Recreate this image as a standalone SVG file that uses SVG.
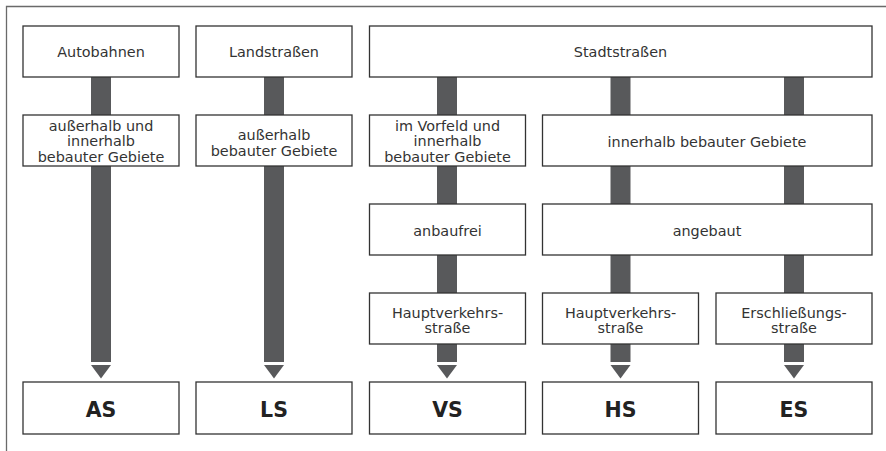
<svg xmlns="http://www.w3.org/2000/svg" width="886" height="451" viewBox="0 0 886 451">
<style>
.frame{stroke:#6a6a6a;stroke-width:1.3;fill:none}
.box{fill:#ffffff;stroke:#333333;stroke-width:1.3}
.bar{stroke:#58595b;stroke-width:20;stroke-linecap:butt;fill:none}
.t{font-family:"DejaVu Sans","Liberation Sans",sans-serif;font-size:14.4px;fill:#333333;text-anchor:middle}
.b{font-family:"DejaVu Sans","Liberation Sans",sans-serif;font-size:20.5px;font-weight:bold;fill:#222222;text-anchor:middle}
</style>
<defs>
<marker id="ah" markerUnits="userSpaceOnUse" markerWidth="40" markerHeight="40" refX="0" refY="0" orient="auto" overflow="visible">
<path d="M3,-10 L16.5,0 L3,10 Z" fill="#58595b"/>
</marker>
</defs>
<rect width="886" height="451" fill="#ffffff"/>
<path class="frame" d="M6.5,451 V6.5 H886"/>
<g id="connectors">
<line class="bar" x1="101" y1="77" x2="101" y2="115"/>
<line class="bar" x1="101" y1="166" x2="101" y2="362" marker-end="url(#ah)"/>
<line class="bar" x1="274" y1="77" x2="274" y2="115"/>
<line class="bar" x1="274" y1="166" x2="274" y2="362" marker-end="url(#ah)"/>
<line class="bar" x1="447" y1="77" x2="447" y2="115"/>
<line class="bar" x1="447" y1="166" x2="447" y2="204"/>
<line class="bar" x1="447" y1="255" x2="447" y2="293"/>
<line class="bar" x1="447" y1="344" x2="447" y2="362" marker-end="url(#ah)"/>
<line class="bar" x1="620.5" y1="77" x2="620.5" y2="115"/>
<line class="bar" x1="620.5" y1="166" x2="620.5" y2="204"/>
<line class="bar" x1="620.5" y1="255" x2="620.5" y2="293"/>
<line class="bar" x1="620.5" y1="344" x2="620.5" y2="362" marker-end="url(#ah)"/>
<line class="bar" x1="794" y1="77" x2="794" y2="115"/>
<line class="bar" x1="794" y1="166" x2="794" y2="204"/>
<line class="bar" x1="794" y1="255" x2="794" y2="293"/>
<line class="bar" x1="794" y1="344" x2="794" y2="362" marker-end="url(#ah)"/>
</g>
<g id="autobahnen"><rect class="box" x="23" y="26" width="156" height="51"/><text class="t" x="101" y="57">Autobahnen</text></g>
<g id="landstrassen"><rect class="box" x="196" y="26" width="156" height="51"/><text class="t" x="274" y="57">Landstraßen</text></g>
<g id="stadtstrassen"><rect class="box" x="369.5" y="26" width="502.5" height="51"/><text class="t" x="620.5" y="57">Stadtstraßen</text></g>
<g id="ausser-inner"><rect class="box" x="23" y="115" width="156" height="51"/><text class="t" x="101" y="130.5">außerhalb und</text><text class="t" x="101" y="146.2">innerhalb</text><text class="t" x="101" y="162">bebauter Gebiete</text></g>
<g id="ausserhalb"><rect class="box" x="196" y="115" width="156" height="51"/><text class="t" x="274" y="140">außerhalb</text><text class="t" x="274" y="155.5">bebauter Gebiete</text></g>
<g id="vorfeld"><rect class="box" x="369.5" y="115" width="156" height="51"/><text class="t" x="447.5" y="130.5">im Vorfeld und</text><text class="t" x="447.5" y="146.2">innerhalb</text><text class="t" x="447.5" y="162">bebauter Gebiete</text></g>
<g id="innerhalb"><rect class="box" x="542.5" y="115" width="329.5" height="51"/><text class="t" x="707" y="147">innerhalb bebauter Gebiete</text></g>
<g id="anbaufrei"><rect class="box" x="369.5" y="204" width="156" height="51"/><text class="t" x="447.5" y="236">anbaufrei</text></g>
<g id="angebaut"><rect class="box" x="542.5" y="204" width="329.5" height="51"/><text class="t" x="707" y="236">angebaut</text></g>
<g id="hvs-vs"><rect class="box" x="369.5" y="293" width="156" height="51"/><text class="t" x="447.5" y="317.5">Hauptverkehrs-</text><text class="t" x="447.5" y="333">straße</text></g>
<g id="hvs-hs"><rect class="box" x="542.5" y="293" width="156" height="51"/><text class="t" x="620.5" y="317.5">Hauptverkehrs-</text><text class="t" x="620.5" y="333">straße</text></g>
<g id="erschliessung"><rect class="box" x="716" y="293" width="156" height="51"/><text class="t" x="794" y="317.5">Erschließungs-</text><text class="t" x="794" y="333">straße</text></g>
<g id="AS"><rect class="box" x="23" y="382" width="156" height="52"/><text class="b" x="101" y="416.5">AS</text></g>
<g id="LS"><rect class="box" x="196" y="382" width="156" height="52"/><text class="b" x="274" y="416.5">LS</text></g>
<g id="VS"><rect class="box" x="369.5" y="382" width="156" height="52"/><text class="b" x="447.5" y="416.5">VS</text></g>
<g id="HS"><rect class="box" x="542.5" y="382" width="156" height="52"/><text class="b" x="620.5" y="416.5">HS</text></g>
<g id="ES"><rect class="box" x="716" y="382" width="156" height="52"/><text class="b" x="794" y="416.5">ES</text></g>
</svg>
